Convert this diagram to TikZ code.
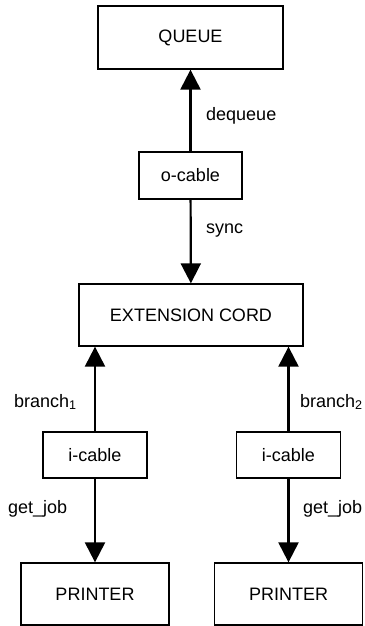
\documentclass[tikz,border=0pt]{standalone}
\usepackage{fontspec}
\setmainfont{Liberation Sans}
\usetikzlibrary{arrows.meta,positioning}

\begin{document}
\begin{tikzpicture}[x=1pt,y=-1pt,
        box/.style={draw,line width=1.3pt,inner sep=0pt,font=\fontsize{18}{21}\selectfont},
        link/.style={line width=2.2pt,-{Triangle[width=20pt,length=20pt]}},
        lbl/.style={anchor=base west,inner sep=0pt,font=\fontsize{18}{21}\selectfont}]
    \useasboundingbox (0,0) rectangle (364,626);
    \node[box,minimum width=185pt,minimum height=63pt] (queue) at (190.5,37.5) {QUEUE};
    \node[box,minimum width=103pt,minimum height=47pt] (ocable) at (190.5,175.5) {o-cable};
    \node[box,minimum width=224pt,minimum height=62pt] (cord) at (191,315) {EXTENSION CORD};
    \foreach \n/\x in {1/95, 2/288.5} {
        \node[box,minimum width=104pt,minimum height=46pt] (icable\n) at (\x,455) {i-cable};
        \node[box,minimum width=148pt,minimum height=62pt] (printer\n) at (\x,594) {PRINTER};
        \draw[link] (icable\n) -- (cord.south -| icable\n);
        \draw[link] (icable\n) -- (printer\n);
    }
    \draw[link] (ocable) -- (queue);
    \draw[link] (ocable) -- (cord);
    % labels
    \node[lbl] (ldequeue) at (206,120) {dequeue};
    \node[lbl] (lsync) at (206,233) {sync};
    \node[lbl] (lbranch1) at (14,407) {branch\textsubscript{1}};
    \node[lbl] (lbranch2) at (300,407) {branch\textsubscript{2}};
    \node[lbl] (ljob1) at (8,513) {get\_job};
    \node[lbl] (ljob2) at (303,513) {get\_job};
\end{tikzpicture}
\end{document}
